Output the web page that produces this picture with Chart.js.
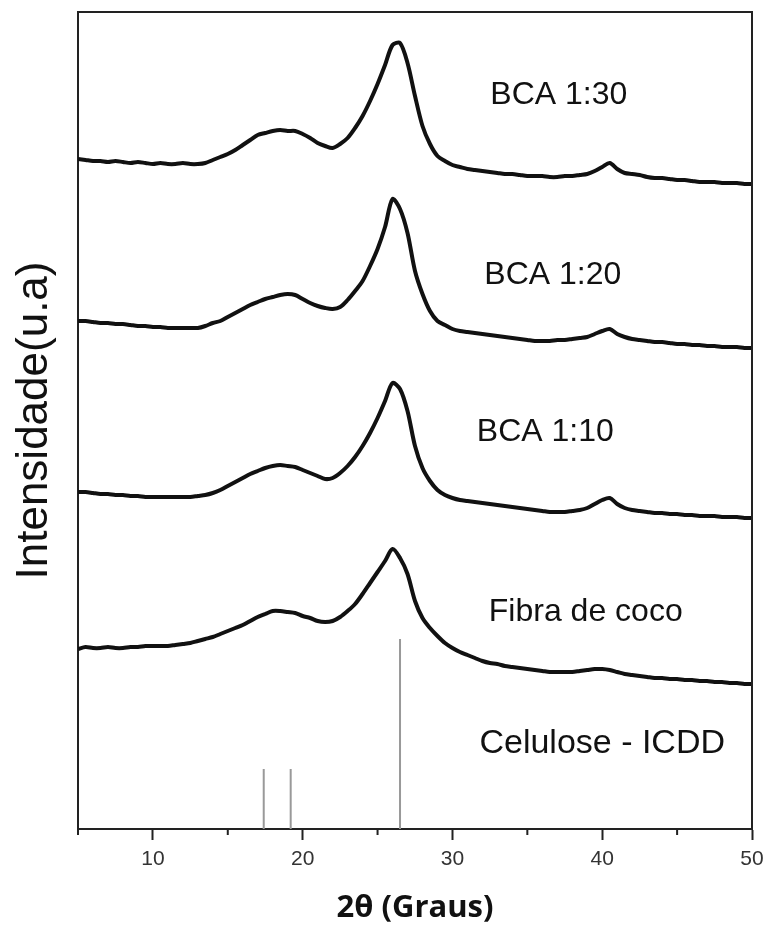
<!DOCTYPE html>
<html>
<head>
<meta charset="utf-8">
<script src="https://cdn.jsdelivr.net/npm/chart.js@4.4.1/dist/chart.umd.min.js"></script>
<style>
  html, body { margin: 0; padding: 0; background: #fff; }
  #grafico { display: block; }
</style>
</head>
<body>
<canvas id="grafico" width="768" height="930"></canvas>
<script>
// 2θ (graus)
const angulos = [
  5, 5.5, 6, 6.5, 7, 7.5, 8, 8.5, 9, 9.5,
  10, 10.5, 11, 11.5, 12, 12.5, 13, 13.5, 14, 14.5,
  15, 15.5, 16, 16.5, 17, 17.5, 18, 18.5, 19, 19.5,
  20, 20.5, 21, 21.5, 22, 22.5, 23, 23.5, 24, 24.5,
  25, 25.5, 26, 26.5, 27, 27.5, 28, 28.5, 29, 29.5,
  30, 30.5, 31, 31.5, 32, 32.5, 33, 33.5, 34, 34.5,
  35, 35.5, 36, 36.5, 37, 37.5, 38, 38.5, 39, 39.5,
  40, 40.5, 41, 41.5, 42, 42.5, 43, 43.5, 44, 44.5,
  45, 45.5, 46, 46.5, 47, 47.5, 48, 48.5, 49, 49.5,
  50
];

// intensidades (u.a), curvas ja deslocadas
const bca130 = [
  670, 669, 668, 668, 667, 668, 667, 666, 667, 666,
  665, 666, 665, 665, 666, 665, 665, 666, 669, 672,
  675, 679, 684, 689, 694, 696, 698, 699, 698, 698,
  695, 691, 686, 683, 681, 685, 691, 701, 713, 728,
  745, 764, 784, 786, 766, 733, 703, 685, 673, 668,
  664, 662, 660, 659, 658, 657, 656, 655, 655, 654,
  653, 653, 653, 652, 652, 653, 653, 654, 655, 658,
  662, 666, 660, 656, 655, 654, 652, 651, 651, 650,
  649, 649, 648, 647, 647, 647, 646, 646, 646, 645,
  645
];

const bca120 = [
  508, 508, 507, 506, 506, 505, 505, 504, 503, 503,
  502, 502, 501, 501, 501, 501, 501, 503, 506, 508,
  512, 516, 520, 524, 527, 530, 532, 534, 535, 534,
  530, 526, 523, 521, 520, 522, 529, 538, 548, 563,
  580, 602, 630, 620, 596, 558, 535, 518, 508, 504,
  500, 498, 497, 496, 495, 494, 493, 492, 491, 490,
  489, 488, 488, 488, 489, 489, 490, 491, 492, 495,
  498, 500, 495, 492, 490, 489, 488, 487, 487, 486,
  485, 485, 484, 484, 483, 483, 482, 482, 482, 481,
  481
];

const bca110 = [
  337, 337, 336, 335, 335, 334, 334, 333, 333, 332,
  332, 332, 332, 332, 332, 332, 333, 334, 336, 339,
  343, 347, 351, 355, 358, 361, 363, 364, 363, 362,
  359, 356, 353, 350, 351, 356, 363, 372, 383, 396,
  411, 428, 446, 440, 418, 383, 361, 348, 339, 334,
  331, 329, 328, 327, 326, 325, 324, 323, 322, 321,
  320, 319, 318, 317, 317, 317, 318, 319, 321, 325,
  329, 331, 325, 321, 319, 318, 317, 316, 316, 315,
  315, 314, 314, 313, 313, 313, 312, 312, 312, 311,
  311
];

const fibraCoco = [
  180, 182, 181, 181, 182, 181, 181, 182, 182, 183,
  183, 183, 183, 184, 185, 186, 188, 190, 192, 195,
  198, 201, 204, 208, 212, 215, 218, 218, 217, 216,
  213, 211, 208, 207, 208, 212, 218, 225, 235, 246,
  257, 268, 280, 271, 255, 228, 211, 201, 193, 186,
  181, 177, 174, 171, 168, 166, 165, 163, 162, 161,
  160, 159, 158, 157, 157, 157, 157, 158, 159, 160,
  160, 159, 157, 155, 154, 153, 152, 151, 151, 150,
  150, 149, 149, 148, 148, 147, 147, 146, 146, 145,
  145
];

// padrao Celulose - ICDD
const celuloseAngulos = [17.4, 19.2, 26.5];
const celuloseAlturas = [60, 60, 190];

// rotulos das curvas
const rotulos = ['BCA 1:30', 'BCA 1:20', 'BCA 1:10', 'Fibra de coco', 'Celulose - ICDD'];
const rotuloAngulo = [37.1, 36.7, 36.2, 38.9, 40.0];
const rotuloAltura = [725, 545, 388, 208, 76];

function serie(valores) {
  return angulos.map((a, i) => ({ x: a, y: valores[i] }));
}

function barras() {
  const pontos = [];
  celuloseAngulos.forEach((a, i) => {
    pontos.push({ x: a, y: 0 });
    pontos.push({ x: a, y: celuloseAlturas[i] });
    pontos.push({ x: a, y: null });
  });
  return pontos;
}

const fonte = '"Liberation Sans", Arial, sans-serif';

const moldura = {
  id: 'moldura',
  afterDraw(chart) {
    const { ctx, chartArea: area, scales: { x, y } } = chart;
    ctx.save();
    ctx.strokeStyle = '#222';
    ctx.lineWidth = 2;
    ctx.beginPath();
    ctx.moveTo(area.left, area.top);
    ctx.lineTo(area.right, area.top);
    ctx.lineTo(area.right, area.bottom);
    // ticks menores
    x.ticks.forEach(t => {
      if (t.value % 10 !== 0) {
        const px = x.getPixelForValue(t.value);
        ctx.moveTo(px, area.bottom);
        ctx.lineTo(px, area.bottom + 6);
      }
    });
    ctx.stroke();

    ctx.fillStyle = '#111';
    ctx.textAlign = 'center';
    ctx.textBaseline = 'alphabetic';
    rotulos.forEach((txt, i) => {
      const tam = i === 4 ? 34 : 32;
      ctx.font = tam + 'px ' + fonte;
      ctx.fillText(txt, x.getPixelForValue(rotuloAngulo[i]), y.getPixelForValue(rotuloAltura[i]));
    });
    ctx.restore();
  }
};

const curva = (valores) => ({
  data: serie(valores),
  borderColor: '#111',
  borderWidth: 4,
  pointRadius: 0,
  tension: 0.3
});

new Chart(document.getElementById('grafico'), {
  type: 'line',
  data: {
    datasets: [
      curva(bca130),
      curva(bca120),
      curva(bca110),
      curva(fibraCoco),
      {
        data: barras(),
        borderColor: '#999',
        borderWidth: 2,
        pointRadius: 0,
        spanGaps: false
      }
    ]
  },
  options: {
    responsive: false,
    animation: false,
    layout: { padding: { top: 12, right: 16, left: 0, bottom: 0 } },
    plugins: {
      legend: { display: false },
      tooltip: { enabled: false }
    },
    scales: {
      x: {
        type: 'linear',
        min: 5,
        max: 50,
        afterFit: s => {
          s.height = 101;
          s.paddingLeft = 0;
          s.paddingRight = 0;
        },
        ticks: {
          stepSize: 5,
          autoSkip: false,
          maxRotation: 0,
          padding: 7,
          color: '#333',
          font: { family: fonte, size: 21 },
          callback: v => (v % 10 === 0 ? v : '')
        },
        grid: {
          drawOnChartArea: false,
          tickLength: 11,
          tickWidth: 2,
          tickColor: c => (c.tick && c.tick.value % 10 === 0 ? '#222' : 'rgba(0,0,0,0)')
        },
        border: { display: true, color: '#222', width: 2 },
        title: {
          display: true,
          text: '2θ (Graus)',
          color: '#111',
          font: { family: '"Open Sans", sans-serif', size: 31, weight: 'bold' },
          padding: { top: 0, bottom: 3 }
        }
      },
      y: {
        min: 0,
        max: 817,
        afterFit: s => { s.width = 78; },
        ticks: { display: false },
        grid: { display: false },
        border: { display: true, color: '#222', width: 2 },
        title: {
          display: true,
          text: 'Intensidade(u.a)',
          color: '#111',
          font: { family: fonte, size: 44 },
          padding: { top: 8, bottom: 0 }
        }
      }
    }
  },
  plugins: [moldura]
});
</script>
</body>
</html>
